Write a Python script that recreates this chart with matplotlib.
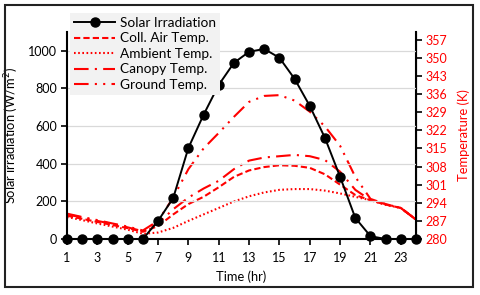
import matplotlib
matplotlib.use("Agg")
import matplotlib.pyplot as plt
from matplotlib.patches import Rectangle

plt.rcParams['font.family'] = ['Lato', 'DejaVu Sans']

hours = list(range(1, 25))
solar = [0, 0, 0, 0, 0, 0, 96, 218, 484, 660, 819, 936, 995, 1010, 963, 851, 707, 537, 330, 112, 15, 0, 0, 0]
coll_air = [289.0, 287.8, 286.6, 285.4, 284.2, 282.8, 285.0, 289.5, 293.5, 296.3, 300.0, 304.0,
            306.5, 307.8, 308.5, 308.3, 307.5, 305.0, 301.0, 297.0, 295.0, 293.3, 292.0, 287.5]
ambient = [288.5, 287.3, 286.0, 284.8, 283.6, 282.0, 282.5, 284.3, 287.0, 289.5, 292.0, 294.5,
           296.5, 298.0, 299.0, 299.3, 299.3, 298.7, 297.6, 296.3, 295.0, 293.2, 292.0, 287.5]
canopy = [289.5, 288.3, 287.0, 285.8, 284.5, 283.0, 286.0, 291.5, 296.0, 299.5, 302.5, 307.0,
          310.3, 311.5, 312.0, 312.5, 312.0, 310.5, 306.0, 299.0, 295.0, 293.5, 292.0, 287.5]
ground = [289.8, 288.5, 287.3, 286.0, 284.8, 283.3, 287.0, 296.0, 307.0, 315.0, 321.0, 327.2,
          333.0, 335.3, 335.6, 333.5, 329.2, 323.5, 316.0, 304.0, 295.5, 293.5, 292.0, 287.5]

x_ticks = list(range(1, 24, 2))
left_ticks = list(range(0, 1001, 200))
right_ticks = list(range(280, 358, 7))

W, H = 480, 295
fig = plt.figure(figsize=(4.8, 2.95), dpi=100)
ax = fig.add_axes([67 / W, 1 - 239 / H, (416 - 67) / W, (239 - 32) / H])
ax2 = ax.twinx()
ax.set_zorder(ax2.get_zorder() + 1)
ax.patch.set_visible(False)

red = '#ff0000'
lw = 1.5
l2 = ax2.plot(hours, coll_air, color=red, lw=lw, dashes=(3, 1.5), label='Coll. Air Temp.')
l3 = ax2.plot(hours, ambient, color=red, lw=lw, dashes=(0.8, 1.2), label='Ambient Temp.')
l4 = ax2.plot(hours, canopy, color=red, lw=lw, dashes=(7, 3, 1, 3), label='Canopy Temp.')
l5 = ax2.plot(hours, ground, color=red, lw=lw, dashes=(7, 3, 1, 3, 1, 3), label='Ground Temp.')

l1 = ax.plot(hours, solar, color='black', lw=1.4, marker='o', markersize=6.5,
             label='Solar Irradiation', clip_on=False, zorder=5)

ax.set_xlim(1, 24)
ax.set_ylim(0, 1100)
ax2.set_ylim(280, 360)
ax.set_xticks(x_ticks)
ax.set_yticks(left_ticks)
ax2.set_yticks(right_ticks)

ax.grid(axis='y', color='#d9d9d9', lw=0.9, zorder=0)
ax.set_axisbelow(True)

for a in (ax, ax2):
    a.spines['top'].set_visible(False)
ax.spines['left'].set_linewidth(1.5)
ax.spines['bottom'].set_linewidth(1.5)
ax2.spines['right'].set_linewidth(1.5)
ax2.spines['left'].set_visible(False)
ax2.spines['bottom'].set_visible(False)

ax.tick_params(axis='both', labelsize=9, length=4, width=1.2, color='black', pad=3)
ax.tick_params(axis='x', pad=5)
ax2.tick_params(axis='y', labelsize=9, length=4, width=1.2, colors=red, pad=3)
ax2.tick_params(axis='y', color='black')

ax.set_xlabel('Time (hr)', fontsize=9.3, labelpad=5)
ax.set_ylabel('Solar irradiation (W/m$^2$)', fontsize=9.3, labelpad=5)
ax2.set_ylabel('Temperature (K)', fontsize=9.3, color=red, labelpad=7)

handles = l1 + l2 + l3 + l4 + l5
leg = ax.legend(handles=handles, loc='upper left', bbox_to_anchor=(70 / W, 1 - 13 / H),
                bbox_transform=fig.transFigure, fontsize=9.8, frameon=True, fancybox=False,
                facecolor='#f2f2f2', edgecolor='none', framealpha=1, handlelength=3.0,
                labelspacing=0.25, borderpad=0.3, handletextpad=0.4, borderaxespad=0)
leg.set_zorder(10)

fig.patches.append(Rectangle((5 / W, 1 - 287 / H), (473 - 5) / W, (287 - 5) / H,
                             transform=fig.transFigure, fill=False, edgecolor='#222222', lw=1.5))

fig.savefig('out.png', dpi=100)
